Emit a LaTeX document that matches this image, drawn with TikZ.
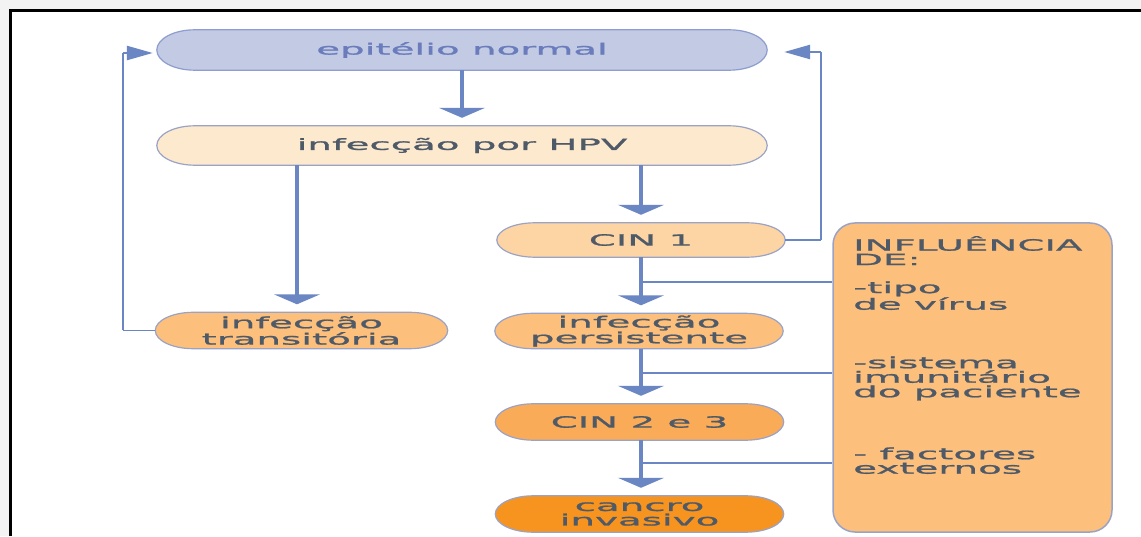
\documentclass[tikz,border=0pt]{standalone}
\usepackage{fontspec}
\newfontfamily\diagfont[FakeStretch=2.5,FakeBold=1.3]{DejaVu Sans}
\usetikzlibrary{arrows.meta,calc,backgrounds}

\definecolor{arr}{HTML}{6B87C3}
\definecolor{epifill}{HTML}{C2CAE4}
\definecolor{epiline}{HTML}{8D9DCF}
\definecolor{epitxt}{HTML}{6A7CBC}
\definecolor{hpvfill}{HTML}{FDE9CE}
\definecolor{cinafill}{HTML}{FDD5A5}
\definecolor{midfill}{HTML}{FDBF7C}
\definecolor{cinbfill}{HTML}{FAAB58}
\definecolor{cancfill}{HTML}{F7941F}
\definecolor{pillline}{HTML}{9AA3C4}
\definecolor{txt}{HTML}{4F5A68}
\definecolor{margin}{HTML}{F3F3F3}

% pill outline with elliptical ends behind a named node
\newcommand\pillbg[3]{%
  \path[draw=#3, line width=1.2pt, fill=#2]
    let \p1=(#1.north west), \p2=(#1.south east), \n1={(\y1-\y2)/2} in
    (\x1+38pt,\y1) -- (\x2-38pt,\y1)
    arc[start angle=90, end angle=-90, x radius=38pt, y radius=\n1]
    -- (\x1+38pt,\y2)
    arc[start angle=-90, end angle=-270, x radius=38pt, y radius=\n1]
    -- cycle;}

\begin{document}
\begin{tikzpicture}[x=1pt,y=1pt,
  lbl/.style={font=\diagfont\fontsize{15.5}{14.5}\selectfont, text=txt,
              align=center, inner sep=0pt},
  flow/.style={draw=arr, line width=3.5pt,
               -{Triangle[width=46pt,length=10pt]}, shorten >=8pt},
  back/.style={draw=arr, line width=2.8pt},
  backtip/.style={draw=arr, line width=2.5pt,
                  -{Triangle[width=14pt,length=26pt]}},
  branch/.style={draw=arr, line width=1.5pt},
]
\useasboundingbox (0,0) rectangle (1141,536);

% stages
\node[lbl, text=epitxt, minimum width=610pt, minimum height=40pt] (epi) at (462,486) {epitélio normal};
\node[lbl, minimum width=610pt, minimum height=39pt] (hpv) at (462,390.5) {infecção por HPV};
\node[lbl, minimum width=288pt, minimum height=34pt] (cin1) at (641,296) {CIN 1};
\node[lbl, minimum width=292pt, minimum height=36pt] (trans) at (301.5,205.5) {infecção\\transitória};
\node[lbl, minimum width=288pt, minimum height=35pt] (pers) at (639,205) {infecção\\persistente};
\node[lbl, minimum width=288pt, minimum height=36pt] (cin23) at (639.5,114) {CIN 2 e 3};
\node[lbl, minimum width=288pt, minimum height=36pt] (canc) at (639.5,22) {cancro\\invasivo};

\begin{pgfonlayer}{background}
  \fill[margin] (0,0) rectangle (1141,536);
  \fill[white] (10,0) rectangle (1141,525);
  \draw[black, line width=3pt] (10,0) -- (10,525) -- (1141,525);
  \pillbg{epi}{epifill}{epiline}
  \pillbg{hpv}{hpvfill}{pillline}
  \pillbg{cin1}{cinafill}{pillline}
  \pillbg{trans}{midfill}{pillline}
  \pillbg{pers}{midfill}{pillline}
  \pillbg{cin23}{cinbfill}{pillline}
  \pillbg{canc}{cancfill}{pillline}
\end{pgfonlayer}

% influencing factors
\node[draw=pillline, line width=1.5pt, fill=midfill, rounded corners=22pt,
      minimum width=279pt, minimum height=309pt] (infl) at (972.5,158.5) {};
\node[lbl, align=left, anchor=north west] (infltxt) at (853,300)
  {INFLUÊNCIA\\DE:\\[13.5pt]-tipo\\de vírus\\[44pt]-sistema\\imunitário\\do paciente\\[46pt]- factores\\externos};

% main progression
\draw[flow] (epi.south) -- (hpv.north);
\draw[flow] ([xshift=-4.5pt]trans.north |- hpv.south) -- ([xshift=-4.5pt]trans.north);
\draw[flow] (cin1.north |- hpv.south) -- (cin1.north);
\draw[flow] (cin1.south) -- (cin1.south |- pers.north);
\draw[flow] (cin1.south |- pers.south) -- (cin1.south |- cin23.north);
\draw[flow] (cin1.south |- cin23.south) -- (cin1.south |- canc.north);

% branches to the factor box
\coordinate (b1) at (641,254);
\coordinate (b2) at (641,163);
\coordinate (b3) at (641,73);
\draw[branch] (b1) -- (b1 -| infl.west);
\draw[branch] (b2) -- (b2 -| infl.west);
\draw[branch] (b3) -- (b3 -| infl.west);

% regression paths
\coordinate (rf) at (821,484);
\coordinate (lf) at (123,483);
\draw[branch] (cin1.east) -- (cin1.east -| rf);
\draw[back] (cin1.east -| rf) -- (rf);
\draw[backtip, shorten >=17pt] (rf) -- (rf -| epi.east);
\draw[branch] (trans.west) -- (trans.west -| lf);
\draw[back] (trans.west -| lf) -- (lf);
\draw[backtip, shorten >=4pt] (lf) -- (lf -| epi.west);
\end{tikzpicture}
\end{document}
